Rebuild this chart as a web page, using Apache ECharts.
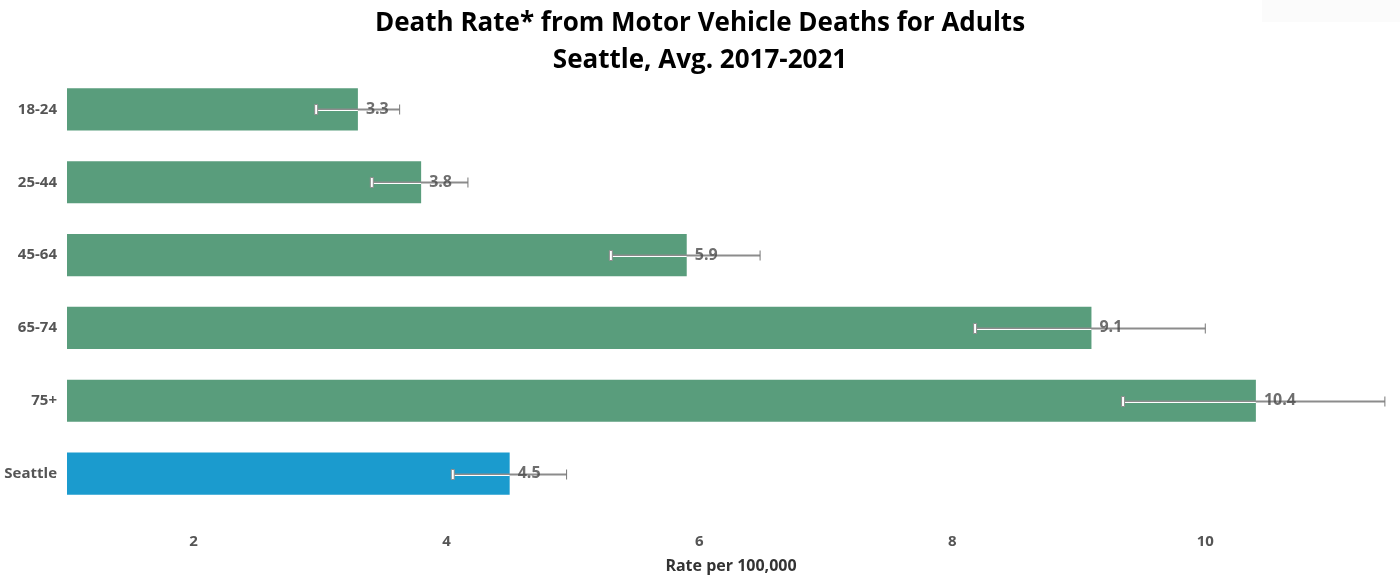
<!DOCTYPE html>
<html>
<head>
<meta charset="utf-8">
<script src="https://cdn.jsdelivr.net/npm/echarts@6/dist/echarts.min.js"></script>
<style>
  html, body { margin: 0; padding: 0; background: #fff; }
  #chart { width: 1400px; height: 579px; }
</style>
</head>
<body>
<div id="chart"></div>
<script>
// age groups, top to bottom
const categories = ['18-24', '25-44', '45-64', '65-74', '75+', 'Seattle'];
const rates = [3.3, 3.8, 5.9, 9.1, 10.4, 4.5];
// 95% confidence interval ends
const lowerCI = [2.97, 3.41, 5.30, 8.18, 9.35, 4.05];
const upperCI = [3.63, 4.17, 6.48, 10.0, 11.42, 4.95];
const xTicks = [2, 4, 6, 8, 10];

const GREEN = '#599d7c';
const BLUE = '#1b9bce';

const chart = echarts.init(document.getElementById('chart'));

const barData = rates.map((v, i) => ({
  value: v,
  itemStyle: { color: categories[i] === 'Seattle' ? BLUE : GREEN }
}));

const errData = categories.map((c, i) => [i, lowerCI[i], upperCI[i], rates[i]]);
const labelData = categories.map((c, i) => [rates[i], i]);

function renderError(params, api) {
  const cat = api.value(0);
  const lo = api.coord([api.value(1), cat]);
  const hi = api.coord([api.value(2), cat]);
  const mid = api.coord([api.value(3), cat]);
  const y = Math.round(lo[1]) + 0.5;
  const h = 5;
  return {
    type: 'group',
    children: [
      {
        type: 'line',
        shape: { x1: lo[0], y1: y, x2: hi[0], y2: y },
        style: { stroke: '#8c8c8c', lineWidth: 2 }
      },
      {
        type: 'line',
        shape: { x1: lo[0], y1: y + 1, x2: mid[0], y2: y + 1 },
        style: { stroke: '#ffffff', lineWidth: 1 }
      },
      {
        type: 'rect',
        shape: { x: lo[0] - 1.5, y: y - h, width: 3, height: h * 2 },
        style: { fill: '#fff', stroke: '#8c8c8c', lineWidth: 1 }
      },
      {
        type: 'line',
        shape: { x1: hi[0], y1: y - h, x2: hi[0], y2: y + h },
        style: { stroke: '#777', lineWidth: 1 }
      }
    ]
  };
}

chart.setOption({
  animation: false,
  backgroundColor: '#fff',
  textStyle: { fontFamily: 'Open Sans' },
  title: {
    text: 'Death Rate* from Motor Vehicle Deaths for Adults\nSeattle, Avg. 2017-2021',
    left: 'center',
    top: 0,
    textStyle: {
      fontFamily: 'Open Sans',
      fontSize: 26,
      fontWeight: 'bold',
      color: '#000',
      lineHeight: 37
    }
  },
  graphic: [{
    type: 'rect',
    right: 0,
    top: 0,
    shape: { width: 138, height: 22 },
    style: { fill: '#fbfbfb' }
  }],
  grid: {
    left: 67,
    right: 5,
    top: 73,
    bottom: 67,
    containLabel: false
  },
  xAxis: {
    type: 'value',
    min: 1,
    max: 11.5,
    interval: 1,
    name: 'Rate per 100,000',
    nameLocation: 'middle',
    nameGap: 48,
    nameTextStyle: {
      fontSize: 16,
      fontWeight: 'bold',
      color: '#333'
    },
    axisLine: { show: false },
    axisTick: { show: false },
    splitLine: { show: false },
    axisLabel: {
      margin: 24,
      fontSize: 15,
      fontWeight: 'bold',
      color: '#555',
      formatter: v => (xTicks.indexOf(v) >= 0 ? String(v) : '')
    }
  },
  yAxis: {
    type: 'category',
    data: categories,
    inverse: true,
    axisLine: { show: false },
    axisTick: { show: false },
    axisLabel: {
      margin: 10,
      fontSize: 15,
      fontWeight: 'bold',
      color: '#555'
    }
  },
  series: [
    {
      type: 'bar',
      data: barData,
      barCategoryGap: '42%',
      z: 2
    },
    {
      type: 'custom',
      data: errData,
      renderItem: renderError,
      encode: { x: [1, 2], y: 0 },
      z: 3
    },
    {
      type: 'scatter',
      data: labelData,
      symbolSize: 0,
      silent: true,
      z: 5,
      label: {
        show: true,
        position: 'right',
        distance: 8,
        fontSize: 16,
        fontWeight: 'bold',
        color: '#4a4a4a',
        formatter: p => p.value[0].toFixed(1)
      }
    }
  ]
});
</script>
</body>
</html>
